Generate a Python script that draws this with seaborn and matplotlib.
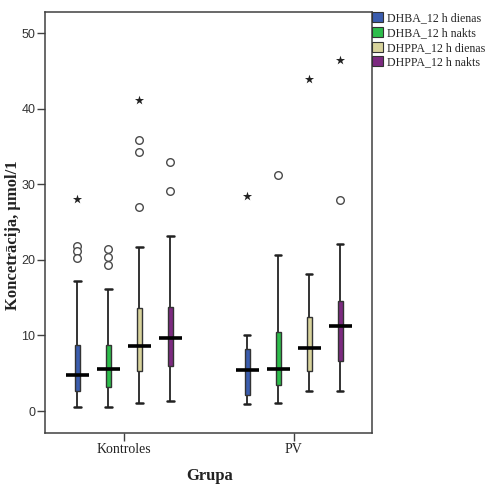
import numpy as np
import pandas as pd
import matplotlib
matplotlib.use("Agg")
import matplotlib.pyplot as plt
from matplotlib.patches import Patch
import seaborn as sns

# Groups and measured series
groups = ["Kontroles", "PV"]
series = ["DHBA_12 h dienas", "DHBA_12 h nakts", "DHPPA_12 h dienas", "DHPPA_12 h nakts"]
colors = ["#3B5DAE", "#2DBD4B", "#D8D39C", "#7C2A80"]

# Box statistics, ordered Kontroles (4 series) then PV (4 series)
whisk_low = [0.6, 0.5, 1.1, 1.3, 1.0, 1.1, 2.6, 2.7]
quart_1 = [2.7, 3.2, 5.3, 5.9, 2.1, 3.4, 5.3, 6.6]
medians = [4.8, 5.6, 8.6, 9.7, 5.4, 5.6, 8.3, 11.2]
quart_3 = [8.8, 8.7, 13.6, 13.8, 8.2, 10.5, 12.4, 14.6]
whisk_high = [17.2, 16.1, 21.7, 23.2, 10.0, 20.6, 18.1, 22.1]

# Outliers (circles) and extreme values (stars): group, series index, value
out_group = ["Kontroles"] * 11 + ["PV"] * 2
out_series = [0, 0, 0, 1, 1, 1, 2, 2, 2, 3, 3, 1, 3]
out_value = [21.8, 21.2, 20.2, 21.4, 20.4, 19.3, 35.8, 34.3, 27.0, 32.9, 29.1, 31.2, 27.9]

ext_group = ["Kontroles", "Kontroles", "PV", "PV", "PV"]
ext_series = [0, 2, 0, 2, 3]
ext_value = [28.0, 41.1, 28.5, 44.0, 46.5]

sns.set_style("ticks")
plt.rcParams["font.family"] = ["Liberation Serif", "DejaVu Serif"]

# Long-form table: five summary points per box give the exact quartiles
rows = []
for gi, g in enumerate(groups):
    for si, s in enumerate(series):
        k = gi * len(series) + si
        for v in (whisk_low[k], quart_1[k], medians[k], quart_3[k], whisk_high[k]):
            rows.append({"Grupa": g, "series": s, "value": v})
df = pd.DataFrame(rows)

fig = plt.figure(figsize=(4.9, 4.84), dpi=100)
ax = fig.add_axes([45 / 490, 51 / 484, 327 / 490, 421 / 484])

box_width = 0.73
sns.boxplot(
    data=df, x="Grupa", y="value", hue="series",
    order=groups, hue_order=series, palette=colors,
    width=box_width, gap=0.82, whis=(0, 100), saturation=1,
    linecolor="#333333", linewidth=1.0, showfliers=False, legend=False,
    medianprops={"color": "black", "linewidth": 2.6, "zorder": 4},
    whiskerprops={"color": "#333333", "linewidth": 1.4},
    capprops={"color": "#222222", "linewidth": 1.8},
    ax=ax,
)

# Wider median bars and caps
for cont in ax.containers:
    for med in getattr(cont, "medians", []):
        cx = np.mean(med.get_xdata())
        med.set_xdata([cx - 0.066, cx + 0.066])
    for cap in getattr(cont, "caps", []):
        cx = np.mean(cap.get_xdata())
        cap.set_xdata([cx - 0.018, cx + 0.018])

# Dodged positions for the individual points
slot = box_width / len(series)
offsets = (np.arange(len(series)) - (len(series) - 1) / 2) * slot
gpos = {g: i for i, g in enumerate(groups)}

out_x = [gpos[g] + offsets[s] for g, s in zip(out_group, out_series)]
ext_x = [gpos[g] + offsets[s] for g, s in zip(ext_group, ext_series)]

sns.scatterplot(x=out_x, y=out_value, marker="o", s=30, color="white",
                edgecolor="#4a4a4a", linewidth=1.0, zorder=5, ax=ax)
sns.scatterplot(x=ext_x, y=ext_value, marker="*", s=48, color="#222222",
                linewidth=0, zorder=5, ax=ax)

ax.set_xlim(-0.465, 1.46)
ax.set_ylim(-2.9, 52.8)
ax.set_yticks([0, 10, 20, 30, 40, 50])
ax.set_xticks([0, 1])
ax.set_xticklabels(groups, fontsize=10, fontfamily="Liberation Serif", color="#222222")
for lab in ax.get_yticklabels():
    lab.set_fontfamily("Liberation Sans")
    lab.set_fontsize(9)
    lab.set_color("#333333")
ax.tick_params(axis="both", length=5.5, width=1.0, color="#404040", pad=1.5)

for sp in ax.spines.values():
    sp.set_visible(True)
    sp.set_color("#404040")
    sp.set_linewidth(1.1)

ax.set_ylabel("Koncetrācija, µmol/1", fontsize=12, fontweight="bold",
              fontfamily="Liberation Serif", color="#222222")
ax.yaxis.set_label_coords(-0.074, 0.471)
ax.set_xlabel("Grupa", fontsize=12, fontweight="bold",
              fontfamily="Liberation Serif", color="#222222")
ax.xaxis.set_label_coords(0.503, -0.083)

handles = [Patch(facecolor=c, edgecolor="#333333", linewidth=0.8) for c in colors]
fig.legend(handles, series, loc="upper left", bbox_to_anchor=(372 / 490, 1 - 12 / 484),
           frameon=False, borderpad=0, borderaxespad=0,
           handlelength=0.92, handleheight=0.92, handletextpad=0.35,
           labelspacing=0.22, prop={"family": "Liberation Serif", "size": 8.6})

fig.savefig("out.png", dpi=100)
